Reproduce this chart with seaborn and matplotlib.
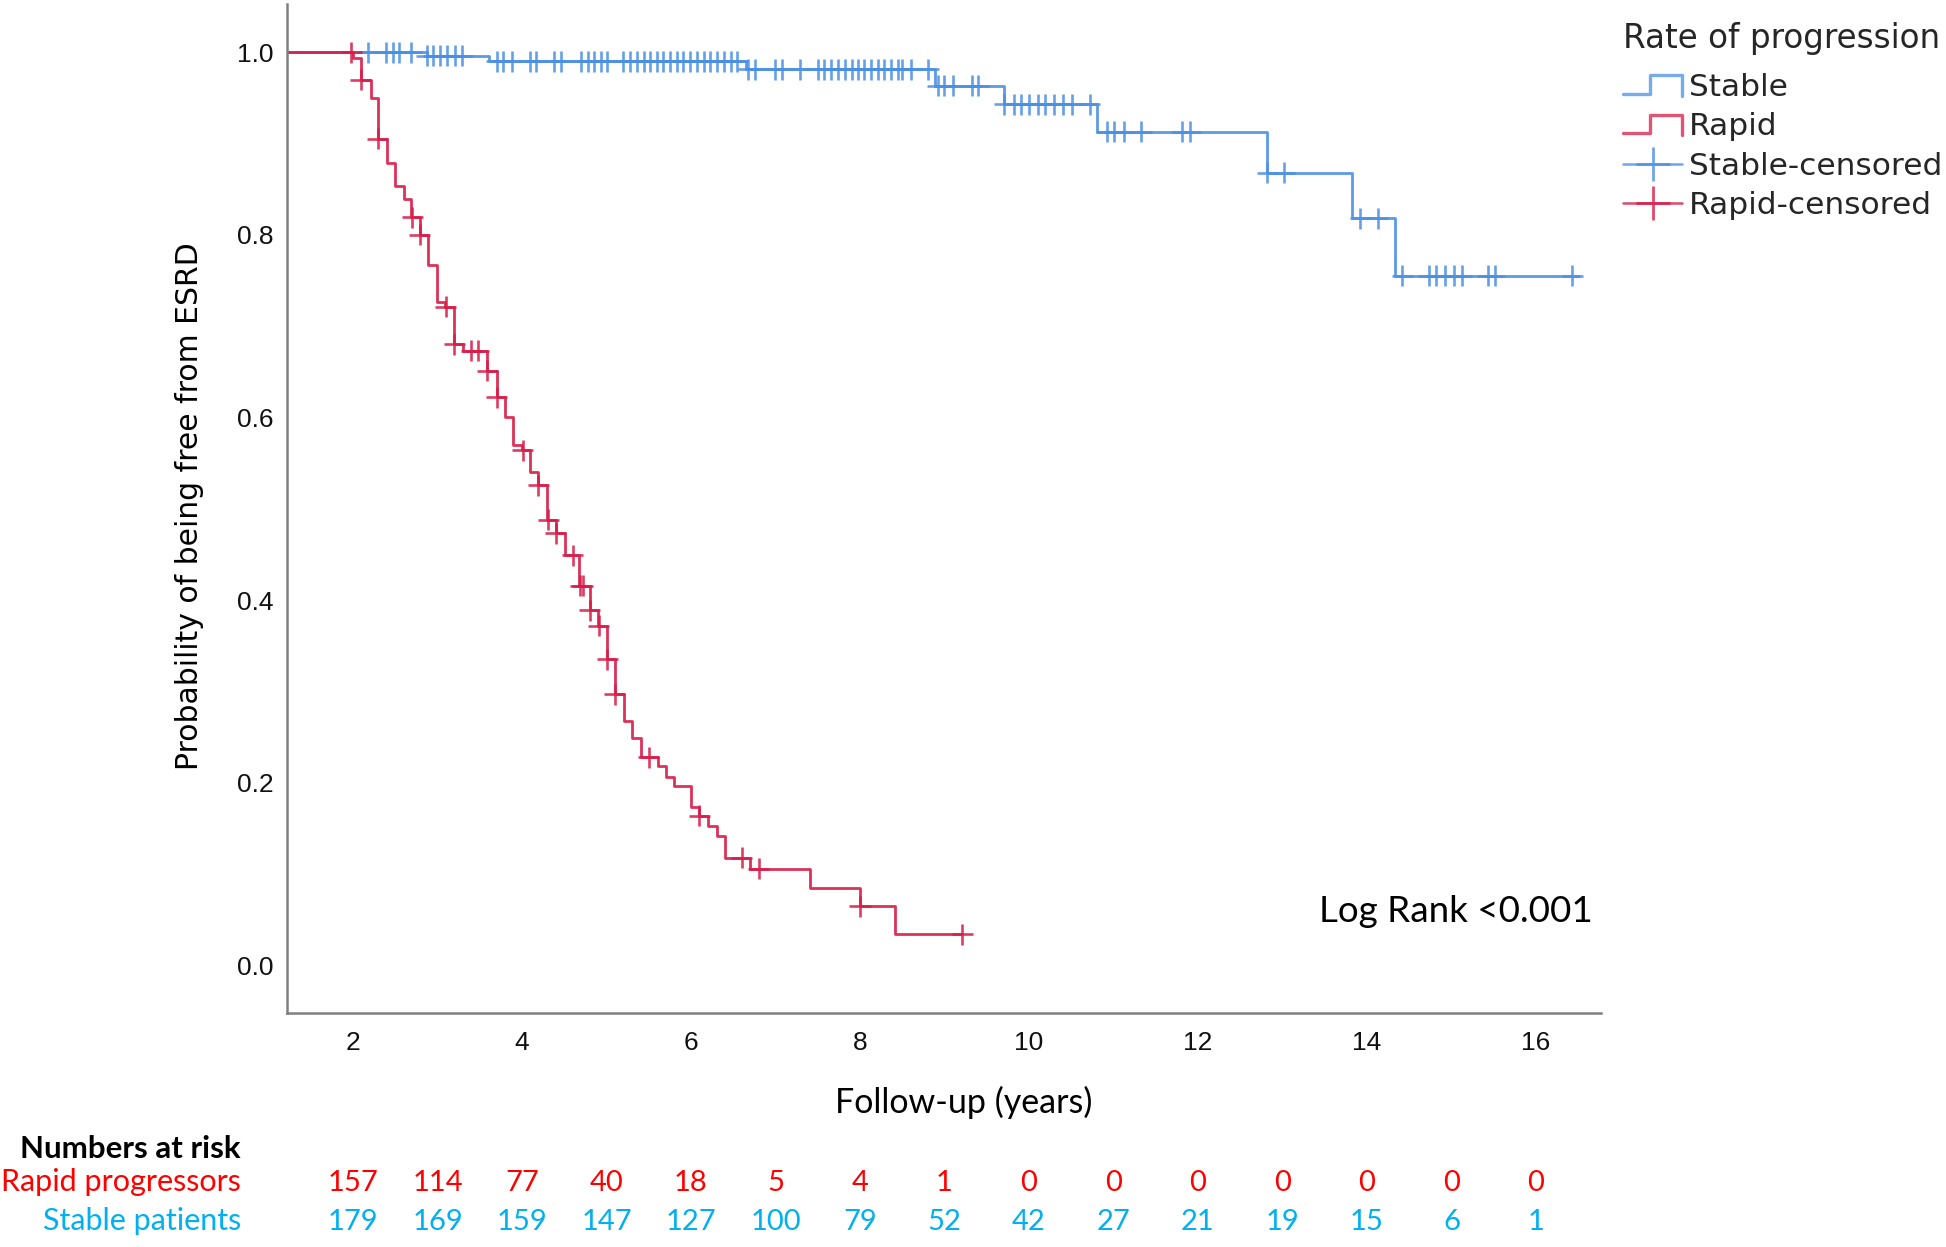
import numpy as np
import pandas as pd
import matplotlib
matplotlib.use("Agg")
import matplotlib.pyplot as plt
import matplotlib.transforms as mtransforms
import seaborn as sns
from matplotlib.lines import Line2D
from matplotlib.legend_handler import HandlerBase

# ---------------- data ----------------
groups = ["Stable", "Rapid"]

stable_event_times = [0.0, 2.87, 3.61, 6.65, 8.89, 9.70, 10.81, 12.82, 13.82, 14.33]
stable_surv = [1.0, 0.996, 0.990, 0.981, 0.963, 0.943, 0.913, 0.868, 0.818, 0.755]
stable_end = 16.51
stable_censor_times = [
    2.18, 2.39, 2.47, 2.55, 2.69,
    2.87, 2.95, 3.03, 3.11, 3.21, 3.29,
    3.70, 3.77, 3.88, 4.09, 4.17, 4.38, 4.46, 4.70, 4.78, 4.85, 4.93, 5.01,
    5.20, 5.28, 5.36, 5.44, 5.52, 5.60, 5.67, 5.75, 5.83, 5.91, 5.99, 6.07,
    6.15, 6.23, 6.31, 6.39, 6.47, 6.55,
    6.68, 6.76, 6.99, 7.08, 7.29, 7.50, 7.58, 7.66, 7.74, 7.82, 7.90, 7.98,
    8.05, 8.13, 8.21, 8.29, 8.37, 8.45, 8.50, 8.60, 8.81,
    8.92, 9.00, 9.10, 9.32, 9.40,
    9.71, 9.82, 9.90, 10.00, 10.11, 10.19, 10.30, 10.40, 10.51, 10.72,
    10.92, 11.01, 11.12, 11.33, 11.81, 11.91,
    12.82, 13.02,
    13.92, 14.13,
    14.42, 14.73, 14.82, 14.92, 15.03, 15.12, 15.43, 15.51, 16.43,
]

rapid_event_times = [0.0, 2.00, 2.09, 2.21, 2.29, 2.40, 2.50, 2.60, 2.69, 2.79,
                     2.89, 2.99, 3.09, 3.19, 3.30, 3.58, 3.70, 3.80, 3.89, 4.00,
                     4.09, 4.19, 4.30, 4.40, 4.51, 4.68, 4.80, 4.90, 5.00, 5.10,
                     5.21, 5.30, 5.41, 5.61, 5.71, 5.80, 6.00, 6.10, 6.20, 6.31,
                     6.40, 6.70, 7.41, 8.00, 8.41]
rapid_surv = [1.0, 0.994, 0.970, 0.950, 0.905, 0.879, 0.853, 0.839, 0.819, 0.800,
              0.767, 0.726, 0.721, 0.680, 0.673, 0.651, 0.622, 0.600, 0.570, 0.564,
              0.540, 0.526, 0.488, 0.473, 0.449, 0.416, 0.389, 0.372, 0.335, 0.297,
              0.268, 0.249, 0.228, 0.218, 0.206, 0.197, 0.174, 0.164, 0.153, 0.142,
              0.118, 0.106, 0.085, 0.065, 0.034]
rapid_end = 9.21
rapid_censor_times = [1.98, 2.09, 2.29, 2.70, 2.79, 3.10, 3.20, 3.40, 3.48, 3.59,
                      3.70, 4.01, 4.19, 4.31, 4.40, 4.60, 4.69, 4.72, 4.80, 4.91,
                      5.01, 5.10, 5.50, 6.10, 6.60, 6.80, 8.00, 9.21]

x_ticks = [2, 4, 6, 8, 10, 12, 14, 16]
y_ticks = [0.0, 0.2, 0.4, 0.6, 0.8, 1.0]

risk_times = [2, 3, 4, 5, 6, 7, 8, 9, 10, 11, 12, 13, 14, 15, 16]
risk_rapid = [157, 114, 77, 40, 18, 5, 4, 1, 0, 0, 0, 0, 0, 0, 0]
risk_stable = [179, 169, 159, 147, 127, 100, 79, 52, 42, 27, 21, 19, 15, 6, 1]

# ---------------- style ----------------
BLUE = "#4A90E2"
RED = "#D81B48"
palette = {"Stable": BLUE, "Rapid": RED}

sns.set_theme(style="white")
plt.rcParams["font.family"] = ["Liberation Sans", "DejaVu Sans"]

# ---------------- tables ----------------
def step_frame(name, times, surv, end):
    t = list(times) + [end]
    s = list(surv) + [surv[-1]]
    return pd.DataFrame({"time": t, "surv": s, "group": name})

def censor_frame(name, times, ev_times, surv):
    ev = np.asarray(ev_times)
    sv = np.asarray(surv)
    idx = np.searchsorted(ev, np.asarray(times), side="right") - 1
    return pd.DataFrame({"time": times, "surv": sv[idx], "group": name})

steps = pd.concat([
    step_frame("Stable", stable_event_times, stable_surv, stable_end),
    step_frame("Rapid", rapid_event_times, rapid_surv, rapid_end),
], ignore_index=True)
cens = pd.concat([
    censor_frame("Stable", stable_censor_times, stable_event_times, stable_surv),
    censor_frame("Rapid", rapid_censor_times, rapid_event_times, rapid_surv),
], ignore_index=True)

# ---------------- figure ----------------
fig = plt.figure(figsize=(19.46, 12.47), dpi=100)
ax = fig.add_axes([0.1475, 0.1877, 0.6752, 0.8093])

sns.lineplot(data=steps, x="time", y="surv", hue="group", hue_order=groups,
             palette=palette, drawstyle="steps-post", estimator=None, sort=False,
             lw=2.0, alpha=0.9, legend=False, ax=ax)
sns.scatterplot(data=cens, x="time", y="surv", hue="group", hue_order=groups,
                palette=palette, marker="+", s=230, linewidth=1.9, alpha=0.85,
                legend=False, ax=ax, zorder=3)

ax.set_xlim(1.219, 16.77)
ax.set_ylim(-0.052, 1.053)
ax.set_xticks(x_ticks)
ax.set_xticklabels([str(v) for v in x_ticks])
ax.set_yticks(y_ticks)
ax.set_yticklabels([f"{v:.1f}" for v in y_ticks])
ax.tick_params(axis="both", length=0, labelsize=19, colors="#111111")
ax.tick_params(axis="x", pad=13)
ax.tick_params(axis="y", pad=10)
for sp in ["top", "right"]:
    ax.spines[sp].set_visible(False)
for sp in ["left", "bottom"]:
    ax.spines[sp].set_color("#808080")
    ax.spines[sp].set_linewidth(1.8)
ax.grid(False)

ax.set_xlabel("Follow-up (years)", fontsize=24.5, family=["Lato", "DejaVu Sans"],
              color="black")
ax.xaxis.label.set_va("baseline")
ax.xaxis.set_label_coords(0.515, -0.0995)
ax.set_ylabel("Probability of being free from ESRD", fontsize=21.5,
              family=["DejaVu Sans"], color="black")
ax.yaxis.label.set_va("center")
ax.yaxis.set_label_coords(-0.0746, 0.502)

# Log rank annotation
fig.text(0.8186, 0.2609, "Log Rank <0.001", ha="right", va="baseline",
         fontsize=26.5, family=["Lato", "DejaVu Sans"], color="black")

# ---------------- legend ----------------
class StepLine(Line2D):
    pass

class StepHandler(HandlerBase):
    def create_artists(self, legend, orig_handle, xdescent, ydescent, width,
                       height, fontsize, trans):
        x0, y0 = -xdescent, -ydescent
        xs = [x0, x0 + 0.45 * width, x0 + 0.45 * width, x0 + width, x0 + width]
        ys = [y0 + 0.1 * height, y0 + 0.1 * height, y0 + 0.95 * height,
              y0 + 0.95 * height, y0 + 0.0 * height]
        ln = Line2D(xs, ys, color=orig_handle.get_color(),
                    lw=orig_handle.get_linewidth(), alpha=0.75)
        ln.set_transform(trans)
        return [ln]

handles = [
    StepLine([], [], color=BLUE, lw=2.4),
    StepLine([], [], color=RED, lw=2.4),
    Line2D([], [], color=BLUE, lw=1.8, marker="+", markersize=24,
           markeredgewidth=2.0, alpha=0.8),
    Line2D([], [], color=RED, lw=1.8, marker="+", markersize=24,
           markeredgewidth=2.0, alpha=0.8),
]
labels = ["Stable", "Rapid", "Stable-censored", "Rapid-censored"]
leg = fig.legend(handles, labels, loc="upper left",
                 bbox_to_anchor=(1623 / 1946, 1 - 22 / 1247),
                 title="Rate of progression", frameon=False,
                 prop={"family": "DejaVu Sans", "size": 22.5},
                 title_fontproperties={"family": "DejaVu Sans", "size": 23.5},
                 alignment="left", handlelength=1.9, handletextpad=0.22,
                 labelspacing=0.33, borderpad=0, borderaxespad=0,
                 handler_map={StepLine: StepHandler()})
leg._legend_box.sep = 13

# ---------------- numbers at risk ----------------
lab_x = 241 / 1946
fig.text(lab_x, 0.0714, "Numbers at risk", ha="right", va="baseline",
         fontsize=22.5, fontweight="bold", family=["Lato", "DejaVu Sans"],
         color="black")
fig.text(lab_x, 0.0448, "Rapid progressors", ha="right", va="baseline",
         fontsize=22, family=["Lato", "DejaVu Sans"], color="#FF0000")
fig.text(lab_x, 0.0136, "Stable patients", ha="right", va="baseline",
         fontsize=22, family=["Lato", "DejaVu Sans"], color="#00B0F0")

row_tf = mtransforms.blended_transform_factory(ax.transData, fig.transFigure)
for t, r, s in zip(risk_times, risk_rapid, risk_stable):
    fig.text(t, 0.0448, str(r), transform=row_tf, ha="center", va="baseline",
             fontsize=21, family=["Lato", "DejaVu Sans"], color="#FF0000")
    fig.text(t, 0.0136, str(s), transform=row_tf, ha="center", va="baseline",
             fontsize=21, family=["Lato", "DejaVu Sans"], color="#00B0F0")

fig.savefig("out.png", dpi=100)
